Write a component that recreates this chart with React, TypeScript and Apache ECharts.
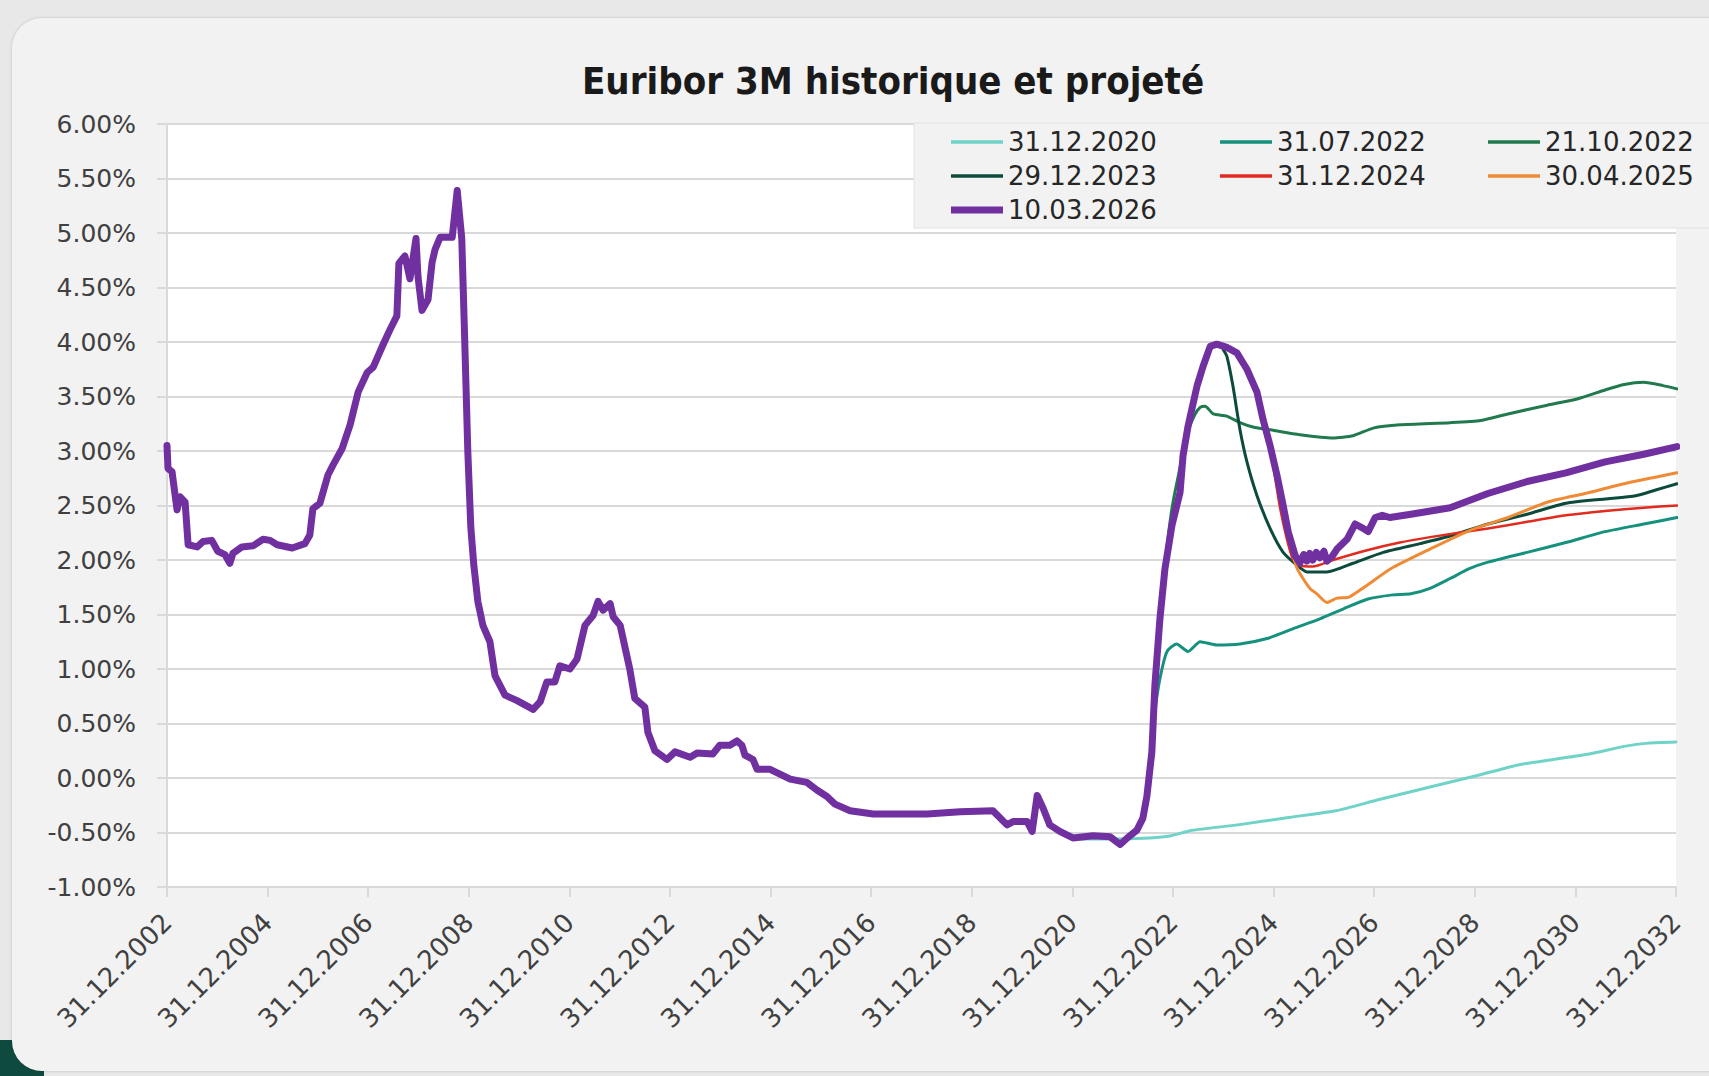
import React, { useEffect, useRef } from "react";
import * as echarts from "echarts";

// x values are decimal years (2003.00 = 31.12.2002); y values in %
const X_TICK_LABELS = [
  "31.12.2002", "31.12.2004", "31.12.2006", "31.12.2008", "31.12.2010", "31.12.2012",
  "31.12.2014", "31.12.2016", "31.12.2018", "31.12.2020", "31.12.2022", "31.12.2024",
  "31.12.2026", "31.12.2028", "31.12.2030", "31.12.2032",
];

const fwd20201231 = [
  [2021.0, -0.56], [2021.75, -0.56], [2022.54, -0.55], [2022.96, -0.53], [2023.38, -0.48],
  [2024.29, -0.43], [2025.33, -0.36], [2026.24, -0.30], [2027.08, -0.20], [2028.13, -0.08],
  [2029.03, 0.02], [2029.86, 0.12], [2030.56, 0.17], [2031.27, 0.22], [2031.97, 0.29],
  [2032.45, 0.32], [2033.0, 0.33],
];

const fwd20220731 = [
  [2022.58, 0.25], [2022.64, 0.6], [2022.74, 0.91], [2022.88, 1.16], [2023.07, 1.23],
  [2023.3, 1.16], [2023.54, 1.25], [2023.87, 1.22], [2024.33, 1.23], [2024.87, 1.28],
  [2025.39, 1.37], [2025.92, 1.46], [2026.38, 1.55], [2026.86, 1.64], [2027.37, 1.68],
  [2027.73, 1.69], [2028.11, 1.74], [2028.51, 1.83], [2028.89, 1.92], [2029.26, 1.98],
  [2030.04, 2.07], [2030.81, 2.16], [2031.59, 2.26], [2032.36, 2.33], [2033.02, 2.39],
];

const fwd20221021 = [
  [2022.8, 1.75], [2022.9, 2.2], [2023.0, 2.53], [2023.14, 2.85], [2023.27, 3.14],
  [2023.43, 3.33], [2023.54, 3.4], [2023.64, 3.41], [2023.8, 3.34], [2024.07, 3.32],
  [2024.33, 3.26], [2024.59, 3.22], [2024.99, 3.19], [2025.52, 3.15], [2026.18, 3.12],
  [2026.58, 3.14], [2026.98, 3.21], [2027.51, 3.24], [2028.51, 3.26], [2029.12, 3.28],
  [2029.66, 3.34], [2030.44, 3.42], [2031.05, 3.48], [2031.59, 3.56], [2031.97, 3.61],
  [2032.36, 3.63], [2032.74, 3.6], [2033.02, 3.57],
];

const fwd20231229 = [
  [2024.0, 3.93], [2024.07, 3.87], [2024.19, 3.6], [2024.33, 3.2], [2024.47, 2.9],
  [2024.67, 2.59], [2024.93, 2.29], [2025.19, 2.07], [2025.47, 1.95], [2025.66, 1.89],
  [2026.06, 1.89], [2026.58, 1.97], [2027.18, 2.07], [2027.91, 2.15], [2028.51, 2.22],
  [2029.26, 2.33], [2030.04, 2.42], [2030.81, 2.52], [2031.59, 2.56], [2032.2, 2.59],
  [2032.58, 2.64], [2033.02, 2.7],
];

const fwd20241231 = [
  [2025.0, 2.85], [2025.12, 2.5], [2025.26, 2.2], [2025.39, 2.0], [2025.52, 1.95],
  [2025.78, 1.94], [2026.18, 2.0], [2026.86, 2.09], [2027.51, 2.16], [2028.11, 2.21],
  [2029.26, 2.29], [2030.04, 2.35], [2030.81, 2.41], [2031.59, 2.45], [2032.36, 2.48],
  [2033.02, 2.5],
];

const fwd20250430 = [
  [2025.33, 2.15], [2025.47, 1.92], [2025.72, 1.74], [2025.86, 1.69], [2026.06, 1.61],
  [2026.26, 1.65], [2026.5, 1.66], [2026.8, 1.75], [2027.33, 1.92], [2028.11, 2.1],
  [2028.89, 2.27], [2029.66, 2.39], [2030.44, 2.53], [2031.19, 2.61], [2031.97, 2.7],
  [2033.02, 2.8],
];

const hist20260310 = [
  [2003.0, 3.05], [2003.02, 2.84], [2003.1, 2.81], [2003.2, 2.46], [2003.26, 2.58],
  [2003.36, 2.53], [2003.42, 2.14], [2003.6, 2.12], [2003.72, 2.17], [2003.89, 2.18],
  [2004.01, 2.08], [2004.15, 2.05], [2004.25, 1.97], [2004.31, 2.06], [2004.49, 2.12],
  [2004.71, 2.13], [2004.91, 2.19], [2005.05, 2.18], [2005.19, 2.14], [2005.49, 2.11],
  [2005.74, 2.15], [2005.84, 2.23], [2005.9, 2.47], [2006.04, 2.52], [2006.2, 2.78],
  [2006.3, 2.87], [2006.48, 3.02], [2006.64, 3.24], [2006.8, 3.54], [2006.98, 3.72],
  [2007.1, 3.77], [2007.29, 3.97], [2007.43, 4.11], [2007.57, 4.24], [2007.61, 4.72],
  [2007.73, 4.79], [2007.83, 4.58], [2007.95, 4.95], [2007.99, 4.6], [2008.07, 4.29],
  [2008.19, 4.39], [2008.27, 4.73], [2008.33, 4.85], [2008.43, 4.96], [2008.67, 4.96],
  [2008.77, 5.39], [2008.86, 4.95], [2008.92, 4.0], [2008.98, 3.0], [2009.04, 2.3],
  [2009.1, 1.95], [2009.18, 1.62], [2009.28, 1.4], [2009.42, 1.25], [2009.52, 0.94],
  [2009.72, 0.76], [2009.96, 0.71], [2010.28, 0.63], [2010.42, 0.7], [2010.55, 0.88],
  [2010.71, 0.88], [2010.81, 1.03], [2011.01, 1.0], [2011.15, 1.09], [2011.31, 1.4],
  [2011.47, 1.49], [2011.57, 1.62], [2011.67, 1.54], [2011.81, 1.6], [2011.87, 1.48],
  [2012.01, 1.4], [2012.2, 1.0], [2012.3, 0.73], [2012.5, 0.65], [2012.56, 0.42],
  [2012.7, 0.25], [2012.94, 0.17], [2013.1, 0.24], [2013.4, 0.19], [2013.54, 0.23],
  [2013.85, 0.22], [2013.99, 0.3], [2014.19, 0.3], [2014.33, 0.34], [2014.43, 0.3],
  [2014.49, 0.21], [2014.65, 0.17], [2014.73, 0.08], [2014.99, 0.08], [2015.39, -0.01],
  [2015.72, -0.04], [2015.92, -0.11], [2016.12, -0.17], [2016.28, -0.24], [2016.58, -0.3],
  [2017.04, -0.33], [2018.11, -0.33], [2018.77, -0.31], [2019.42, -0.3], [2019.7, -0.43],
  [2019.82, -0.4], [2020.1, -0.4], [2020.2, -0.49], [2020.3, -0.16], [2020.42, -0.28],
  [2020.55, -0.43], [2020.75, -0.49], [2021.01, -0.55], [2021.41, -0.53], [2021.75, -0.54],
  [2021.95, -0.61], [2022.09, -0.55], [2022.28, -0.48], [2022.4, -0.37], [2022.48, -0.17],
  [2022.58, 0.24], [2022.64, 0.85], [2022.74, 1.46], [2022.84, 1.92], [2022.98, 2.32],
  [2023.14, 2.62], [2023.2, 2.96], [2023.3, 3.23], [2023.48, 3.6], [2023.6, 3.78],
  [2023.74, 3.96], [2023.87, 3.98], [2024.07, 3.95], [2024.27, 3.9], [2024.47, 3.75],
  [2024.67, 3.54], [2024.79, 3.29], [2024.93, 3.05], [2025.07, 2.77], [2025.19, 2.5],
  [2025.29, 2.26], [2025.43, 2.04], [2025.52, 1.97], [2025.6, 2.05], [2025.66, 1.99],
  [2025.72, 2.06], [2025.78, 2.0], [2025.85, 2.07], [2025.92, 2.02], [2026.0, 2.08],
  [2026.06, 1.99], [2026.16, 2.03], [2026.26, 2.1], [2026.46, 2.19],
  [2026.62, 2.33], [2026.78, 2.29], [2026.88, 2.26], [2027.02, 2.39], [2027.16, 2.41],
  [2027.31, 2.39], [2027.73, 2.42], [2028.51, 2.48], [2029.26, 2.61], [2030.04, 2.72],
  [2030.81, 2.8], [2031.59, 2.9], [2032.36, 2.97], [2033.02, 3.04],
];

const SERIES_NAMES = ["31.12.2020", "31.07.2022", "21.10.2022", "29.12.2023", "31.12.2024", "30.04.2025", "10.03.2026"];
const SERIES_DATA = [fwd20201231, fwd20220731, fwd20221021, fwd20231229, fwd20241231, fwd20250430, hist20260310];
const SERIES_COLORS = ["#6fd3c8", "#15917d", "#217a4e", "#0c4a3c", "#e02b1e", "#ef8b35", "#7030a0"];
const SERIES_WIDTHS = [3, 3, 3, 3, 2.5, 3, 7];
const SERIES_SMOOTH = [0.2, 0.2, 0.2, 0.2, 0.2, 0.2, 0];

const LEGEND_COLUMNS = [
  ["31.12.2020", "29.12.2023", "10.03.2026"],
  ["31.07.2022", "31.12.2024"],
  ["21.10.2022", "30.04.2025"],
];
const LEGEND_LEFT = [951, 1220, 1488];

const START_YEAR = 2003; // decimal year of 31.12.2002
const FONT = '"DejaVu Sans", "Noto Sans", sans-serif';
const TITLE_FONT = '"Liberation Sans Narrow", "DejaVu Sans Condensed", "Noto Sans", sans-serif';

function legendIcon(name: string) {
  const w = SERIES_WIDTHS[SERIES_NAMES.indexOf(name)] >= 5 ? 7 : 3.5;
  return `path://M0 0H52V${w}H0Z`;
}

export default function App() {
  const ref = useRef<HTMLDivElement>(null);

  useEffect(() => {
    if (!ref.current) return;
    const chart = echarts.init(ref.current, undefined, { renderer: "svg" });

    chart.setOption({
      animation: false,
      backgroundColor: "transparent",
      graphic: [
        {
          type: "rect",
          z: 5,
          shape: { x: 914, y: 123, width: 820, height: 105 },
          style: { fill: "#f2f2f2", stroke: "#e2e2e2", lineWidth: 1 },
        },
        {
          type: "text",
          z: 10,
          x: 893,
          y: 81,
          style: {
            text: "Euribor 3M historique et projeté",
            fontFamily: TITLE_FONT,
            fontSize: 38,
            fontWeight: "bold",
            fill: "#1a1a1a",
            textAlign: "center",
            textVerticalAlign: "middle",
          },
        },
      ],
      legend: LEGEND_COLUMNS.map((names, c) => ({
        orient: "vertical",
        left: LEGEND_LEFT[c],
        top: 127,
        itemWidth: 52,
        itemHeight: 14,
        itemGap: 4,
        padding: 0,
        selectedMode: false,
        z: 10,
        textStyle: { fontFamily: FONT, fontSize: 26, color: "#262626", lineHeight: 30 },
        data: names.map((name) => ({ name, icon: legendIcon(name) })),
      })),
      grid: {
        left: 167,
        top: 124,
        width: 1509,
        height: 763,
        show: true,
        backgroundColor: "#ffffff",
        borderWidth: 0,
        containLabel: false,
      },
      xAxis: {
        type: "value",
        min: 0,
        max: 30,
        interval: 2,
        axisLine: { show: true, onZero: false, lineStyle: { color: "#d9d9d9", width: 2 } },
        axisTick: { show: true, length: 10, lineStyle: { color: "#d9d9d9", width: 2 } },
        splitLine: { show: false },
        axisLabel: {
          rotate: 45,
          margin: 31,
          fontFamily: FONT,
          fontSize: 26,
          color: "#404040",
          formatter: (v: number) => X_TICK_LABELS[Math.round(v / 2)] ?? "",
        },
      },
      yAxis: {
        type: "value",
        min: -1,
        max: 6,
        interval: 0.5,
        axisLine: { show: true, lineStyle: { color: "#d9d9d9", width: 2 } },
        axisTick: { show: true, length: 10, lineStyle: { color: "#d9d9d9", width: 2 } },
        splitLine: { show: true, lineStyle: { color: "#d9d9d9", width: 2 } },
        axisLabel: {
          margin: 31,
          fontFamily: FONT,
          fontSize: 25,
          color: "#404040",
          formatter: (v: number) => v.toFixed(2) + "%",
        },
      },
      series: SERIES_NAMES.map((name, i) => ({
        name,
        type: "line",
        data: SERIES_DATA[i].map(([yr, v]) => [yr - START_YEAR, v]),
        symbol: "none",
        showSymbol: false,
        smooth: SERIES_SMOOTH[i],
        color: SERIES_COLORS[i],
        itemStyle: { color: SERIES_COLORS[i] },
        lineStyle: { color: SERIES_COLORS[i], width: SERIES_WIDTHS[i], cap: "round", join: "round" },
        z: 2 + i,
      })),
    });

    return () => chart.dispose();
  }, []);

  return (
    <div style={{ position: "fixed", left: 0, top: 0, width: 1709, height: 1076, background: "#e8e8e8", overflow: "hidden" }}>
      <div style={{ position: "absolute", left: 0, top: 1040, width: 44, height: 36, background: "#0e4b3e" }} />
      <div
        style={{
          position: "absolute",
          left: 12,
          top: 18,
          width: 1730,
          height: 1053,
          borderRadius: 30,
          background: "#f2f2f2",
          boxShadow: "0 0 3px rgba(0,0,0,0.18)",
        }}
      />
      <div ref={ref} style={{ position: "absolute", left: 0, top: 0, width: 1709, height: 1076 }} />
    </div>
  );
}
